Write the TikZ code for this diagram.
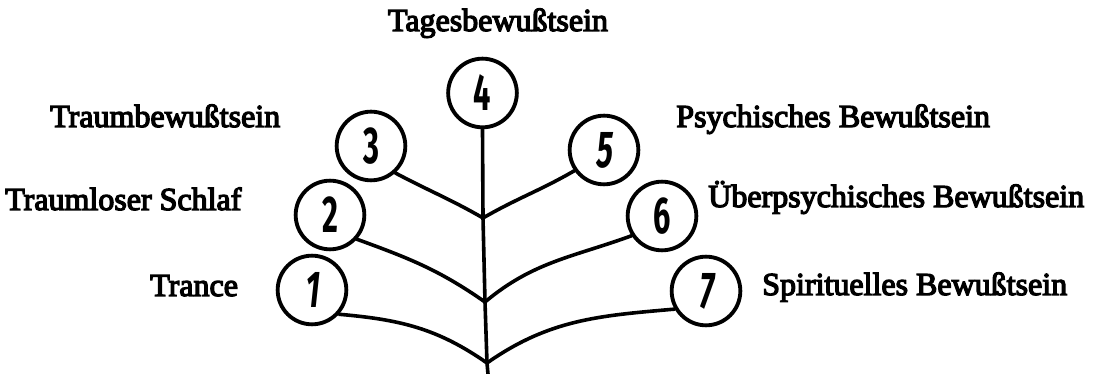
\documentclass[tikz,border=0pt]{standalone}
\usepackage{fontspec}
\setmainfont{Liberation Serif}
\newfontfamily\labelfont{Liberation Serif}[FakeBold=4]
\newfontfamily\digitfont{Fira Sans}
\newfontfamily\digitslant{Fira Sans}[FakeSlant=0.18]
\newcommand{\numeral}[1]{\scalebox{0.64}[1.08]{#1}}
\begin{document}
\begin{tikzpicture}[x=0.75pt,y=0.75pt,
  stage/.style={draw, circle, line width=2.9pt, minimum size=51.5pt, inner sep=0pt,
    font=\digitfont\bfseries\fontsize{36}{36}\selectfont},
  stem/.style={line width=2.7pt, line cap=round},
  caption/.style={font=\labelfont\fontsize{24}{28}\selectfont, inner sep=0pt}]
\useasboundingbox (0,0) rectangle (1100,374);

% the seven states of consciousness
\node[stage] (c1) at (312,84)    {\digitslant\bfseries\numeral{1}};
\node[stage] (c2) at (330,159)   {\numeral{2}};
\node[stage] (c3) at (371,228)   {\numeral{3}};
\node[stage] (c4) at (482.5,281) {\numeral{4}};
\node[stage] (c5) at (604,224)   {\digitslant\bfseries\numeral{5}};
\node[stage] (c6) at (662,158)   {\numeral{6}};
\node[stage] (c7) at (706,83)    {\digitslant\bfseries\numeral{7}};

% forks on the trunk
\coordinate (j1) at (483,156);
\coordinate (j2) at (485,72);
\coordinate (j3) at (487,11);
\coordinate (root) at (488,0);

% trunk
\draw[stem] (c4.south) -- (j1) -- (j2) -- (j3) -- (root);

% branches
\draw[stem] (c3.-48)  to[out=-28,in=150] (j1);
\draw[stem] (c5.-145) to[out=210,in=30]  (j1);
\draw[stem] (c2.-42)  to[out=-20,in=145] (j2);
\draw[stem] (c6.-147) to[out=200,in=40]  (j2);
\draw[stem] (c1.-42)  to[out=-5,in=145]  (j3);
\draw[stem] (c7.-150) to[out=185,in=35]  (j3);

% names
\node[caption, anchor=base]      (t4) at (498,343) {Tagesbewußtsein};
\node[caption, anchor=base west] (t3) at (50,247)  {Traumbewußtsein};
\node[caption, anchor=base west] (t2) at (5,164)   {Traumloser Schlaf};
\node[caption, anchor=base west] (t1) at (150,78)  {Trance};
\node[caption, anchor=base west] (t5) at (676,247) {Psychisches Bewußtsein};
\node[caption, anchor=base west] (t6) at (708,167) {Überpsychisches Bewußtsein};
\node[caption, anchor=base west] (t7) at (762,79)  {Spirituelles Bewußtsein};
\end{tikzpicture}
\end{document}
